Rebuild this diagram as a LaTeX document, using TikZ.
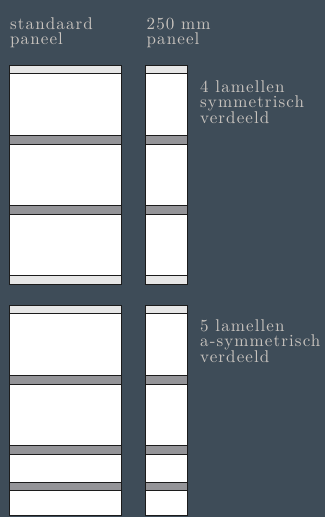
\documentclass[tikz,border=0pt]{standalone}
\usepackage{fontspec}
\newfontfamily\lmlet{lmroman10-regular}[Extension=.otf, LetterSpace=6.5]
\definecolor{bgcol}{HTML}{3E4C58}
\definecolor{txtcol}{HTML}{C8C3BE}
\definecolor{bandgray}{HTML}{949498}
\definecolor{striplight}{HTML}{E6E6E6}
\definecolor{edgecol}{HTML}{1C1C1C}
\newcommand\lettxt{\lmlet\fontsize{17}{15}\selectfont}
\begin{document}
\begin{tikzpicture}[x=1pt,y=-1pt,
  txt/.style={text=txtcol, anchor=base west, inner sep=0pt, font=\lettxt},
  panel/.style={fill=white, draw=edgecol, line width=1pt},
  lightband/.style={fill=striplight, draw=edgecol, line width=1pt},
  grayband/.style={fill=bandgray, draw=edgecol, line width=1pt}]
\fill[bgcol] (0,0) rectangle (325,517);
\useasboundingbox (0,0) rectangle (325,517);

\node[txt] (hstda) at (10,29.5) {standaard};
\node[txt] (hstdb) at (10,44) {paneel};
\node[txt] (h250a) at (146.5,29.5) {250 mm};
\node[txt] (h250b) at (146.5,44) {paneel};
\node[txt] (lab4a) at (200,92.5) {4 lamellen};
\node[txt] (lab4b) at (200,107.5) {symmetrisch};
\node[txt] (lab4c) at (200,123) {verdeeld};
\node[txt] (lab5a) at (200,331.5) {5 lamellen};
\node[txt] (lab5b) at (200,346.5) {a-symmetrisch};
\node[txt] (lab5c) at (200,362) {verdeeld};

\foreach \xa/\xb in {9.5/121.5,145.5/187.5} {
  % upper panel
  \draw[panel] (\xa,65.3) rectangle (\xb,284.3);
  \draw[lightband] (\xa,65.3) rectangle (\xb,73.5);
  \draw[grayband] (\xa,135.3) rectangle (\xb,144);
  \draw[grayband] (\xa,205.7) rectangle (\xb,214.3);
  \draw[lightband] (\xa,275.7) rectangle (\xb,284.3);
  % lower panel
  \draw[panel] (\xa,305.3) rectangle (\xb,515.5);
  \draw[lightband] (\xa,305.3) rectangle (\xb,313.7);
  \draw[grayband] (\xa,375.3) rectangle (\xb,384);
  \draw[grayband] (\xa,445.3) rectangle (\xb,454.3);
  \draw[grayband] (\xa,482) rectangle (\xb,490.7);
}
\end{tikzpicture}
\end{document}
